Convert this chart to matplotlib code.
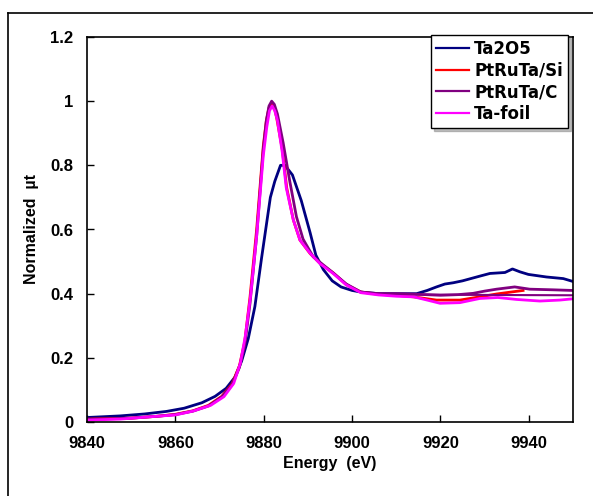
import matplotlib
matplotlib.use('Agg')
import matplotlib.pyplot as plt
from matplotlib.lines import Line2D

# Ta L3-edge XANES
e_ta2o5 = [9840, 9847.5, 9853, 9858, 9862, 9866, 9869, 9871.5, 9873.5, 9875, 9876.5, 9878,
           9879.5, 9881.5, 9882.5, 9883.8, 9884.8, 9886.5, 9888.5, 9890.5, 9891.8, 9893.5,
           9895.5, 9897.5, 9900, 9902, 9906, 9910, 9914.6, 9917, 9919.1, 9921, 9922.9, 9925,
           9927.4, 9929, 9931.2, 9934.6, 9936.3, 9938, 9939.9, 9944, 9947.8, 9950]
v_ta2o5 = [0.014, 0.019, 0.025, 0.033, 0.043, 0.06, 0.08, 0.105, 0.14, 0.19, 0.26, 0.36,
           0.51, 0.70, 0.75, 0.80, 0.80, 0.77, 0.69, 0.59, 0.52, 0.475,
           0.44, 0.421, 0.41, 0.405, 0.40, 0.40, 0.40, 0.41, 0.421, 0.43, 0.434, 0.44,
           0.449, 0.455, 0.463, 0.466, 0.477, 0.468, 0.46, 0.452, 0.447, 0.438]

e_si = [9840, 9850, 9856, 9860, 9864, 9867.5, 9870.5, 9872.8, 9874.5, 9875.7, 9876.9, 9878.4,
        9879.9, 9880.6, 9881.2, 9881.8, 9882.4, 9882.9, 9884.2, 9885.2, 9886.7, 9888.2, 9890.5,
        9892.7, 9895.7, 9898.7, 9902, 9906, 9910, 9913.9, 9919.1, 9924.4, 9928.9, 9932.7,
        9936.5, 9938.7]
v_si = [0.009, 0.012, 0.018, 0.024, 0.035, 0.052, 0.08, 0.118, 0.175, 0.25, 0.39, 0.60,
        0.86, 0.94, 0.98, 0.99, 0.98, 0.95, 0.85, 0.73, 0.63, 0.567, 0.525,
        0.495, 0.465, 0.428, 0.405, 0.398, 0.395, 0.39, 0.38, 0.38, 0.39, 0.399,
        0.406, 0.41]

e_c = [9840, 9850, 9856, 9860, 9864, 9867.5, 9870.5, 9872.8, 9874.5, 9875.7, 9876.9, 9878.4,
       9879.9, 9880.6, 9881.2, 9881.8, 9882.4, 9883.1, 9884.4, 9885.9, 9887.4, 9888.9, 9891.2,
       9893, 9895.7, 9898.7, 9902, 9906, 9910, 9915, 9920, 9924, 9927.4, 9930, 9932.7,
       9936.8, 9940.2, 9945.5, 9950]
v_c = [0.008, 0.012, 0.018, 0.023, 0.034, 0.05, 0.078, 0.115, 0.17, 0.24, 0.37, 0.58,
       0.85, 0.94, 0.985, 1.0, 0.99, 0.96, 0.87, 0.75, 0.64, 0.57, 0.515,
       0.495, 0.465, 0.43, 0.405, 0.40, 0.40, 0.398, 0.395, 0.397, 0.401, 0.408, 0.414,
       0.421, 0.414, 0.412, 0.41]

# second flat purple trace in the tail (not in legend)
e_c2 = [9905, 9915, 9930, 9950]
v_c2 = [0.40, 0.397, 0.396, 0.395]

e_foil = [9840, 9847.5, 9855, 9860, 9864, 9868, 9871, 9873.2, 9874.7, 9875.8, 9877, 9878.4,
          9879.9, 9880.7, 9881.3, 9881.9, 9882.5, 9883.1, 9884.2, 9885.1, 9886.7, 9888.2,
          9890.5, 9892.7, 9895.7, 9898.7, 9902, 9906, 9910, 9914, 9917, 9919.9, 9924.4,
          9928.9, 9933, 9937.2, 9942.5, 9947, 9950]
v_foil = [0.006, 0.009, 0.017, 0.022, 0.034, 0.052, 0.079, 0.12, 0.183, 0.265, 0.39, 0.58,
          0.83, 0.92, 0.97, 0.985, 0.97, 0.94, 0.84, 0.73, 0.63, 0.567,
          0.526, 0.494, 0.463, 0.427, 0.403, 0.396, 0.392, 0.39, 0.38, 0.37, 0.372,
          0.385, 0.388, 0.382, 0.377, 0.38, 0.384]

plt.rcParams['font.family'] = ['Liberation Sans', 'DejaVu Sans']
plt.rcParams['font.weight'] = 'bold'

fig = plt.figure(figsize=(5.93, 4.96), dpi=100)
ax = fig.add_axes([87 / 593, 1 - 422 / 496, 486 / 593, 385 / 496])

# outer frame of the original figure (only left and top visible)
fig.add_artist(Line2D([8 / 593, 8 / 593], [0, 1 - 13 / 496], color='black', lw=1.2))
fig.add_artist(Line2D([8 / 593, 1], [1 - 13 / 496, 1 - 13 / 496], color='black', lw=1.2))

ax.plot(e_ta2o5, v_ta2o5, color='#000080', lw=2, label='Ta2O5')
ax.plot(e_si, v_si, color='#ff0000', lw=2, label='PtRuTa/Si')
ax.plot(e_c2, v_c2, color='#800080', lw=1.5)
ax.plot(e_c, v_c, color='#800080', lw=2, label='PtRuTa/C')
ax.plot(e_foil, v_foil, color='#ff00ff', lw=2, label='Ta-foil')

ax.set_xlim(9840, 9950)
ax.set_ylim(0, 1.2)
ax.set_xticks([9840, 9860, 9880, 9900, 9920, 9940])
ax.set_yticks([0, 0.2, 0.4, 0.6, 0.8, 1.0, 1.2])
ax.set_yticklabels(['0', '0.2', '0.4', '0.6', '0.8', '1', '1.2'])
ax.tick_params(direction='in', length=5, width=1, labelsize=12, pad=10)
for s in ax.spines.values():
    s.set_linewidth(1.2)

ax.set_xlabel('Energy  (eV)', fontsize=11.5, fontweight='bold', labelpad=4)
ax.set_ylabel('Normalized  \u00b5t', fontsize=11.5, fontweight='bold', labelpad=8)

handles, labels = ax.get_legend_handles_labels()
leg = ax.legend(handles, labels, loc='upper right',
                bbox_to_anchor=(568 / 593, 1 - 35 / 496), bbox_transform=fig.transFigure,
                prop={'family': 'DejaVu Sans', 'weight': 'bold', 'size': 12},
                frameon=True, fancybox=False, shadow={'ox': 2, 'oy': -2, 'color': '0.5'},
                framealpha=1, edgecolor='black', borderpad=0.3, labelspacing=0.22,
                handlelength=2.0, handletextpad=0.3, borderaxespad=0)
leg.get_frame().set_linewidth(1)
for ln in leg.get_lines():
    ln.set_linewidth(1.6)

fig.savefig('out.png', dpi=100)
